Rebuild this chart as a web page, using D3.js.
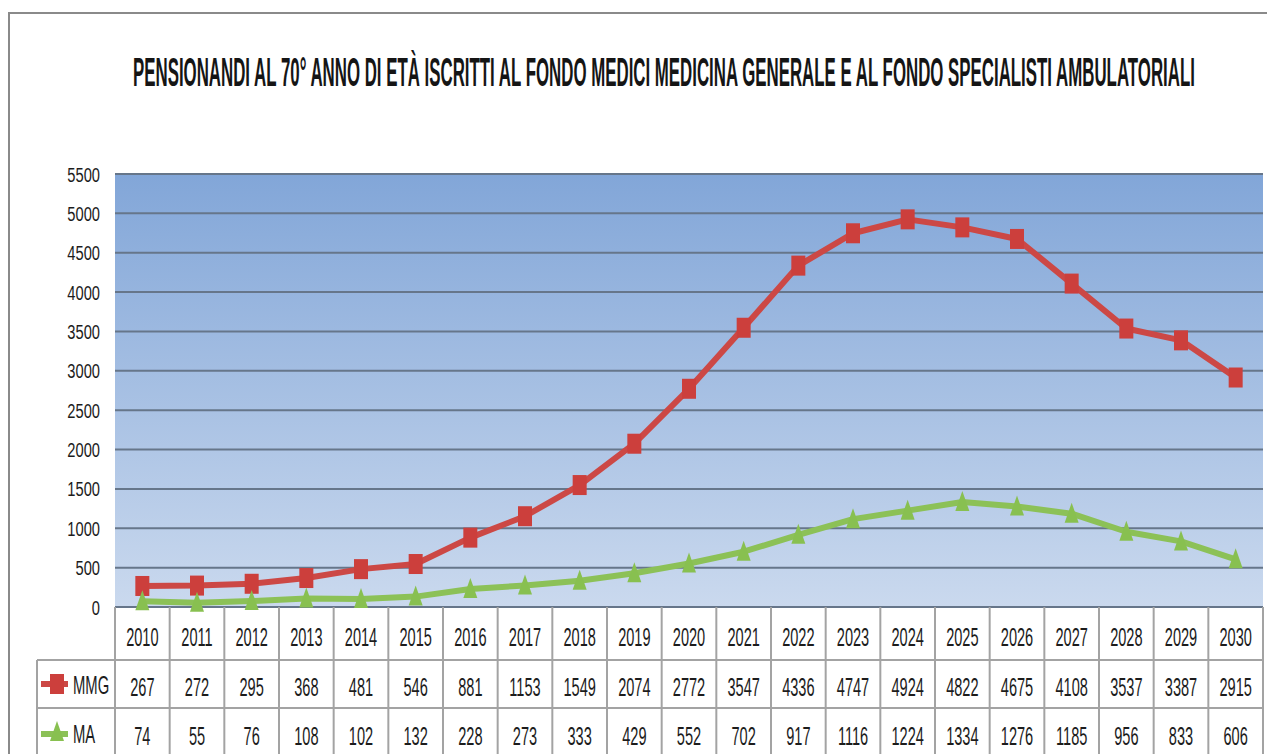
<!DOCTYPE html>
<html>
<head>
<meta charset="UTF-8">
<title>Pensionandi al 70° anno</title>
<script src="https://d3js.org/d3.v7.min.js"></script>
<style>
  body { margin: 0; background: #fff; }
  svg { display: block; }
  text { font-family: "Liberation Sans", Arial, sans-serif; fill: #1c1c1c; }
</style>
</head>
<body>
<svg></svg>
<script>
const years = ["2010","2011","2012","2013","2014","2015","2016","2017","2018","2019","2020",
               "2021","2022","2023","2024","2025","2026","2027","2028","2029","2030"];
const mmg = [267,272,295,368,481,546,881,1153,1549,2074,2772,3547,4336,4747,4924,4822,4675,4108,3537,3387,2915];
const ma  = [74,55,76,108,102,132,228,273,333,429,552,702,917,1116,1224,1334,1276,1185,956,833,606];
const yTicks = d3.range(0, 5501, 500);
const titleText = "PENSIONANDI AL 70° ANNO DI ETÀ ISCRITTI AL FONDO MEDICI MEDICINA GENERALE E AL FONDO SPECIALISTI AMBULATORIALI";

const width = 1267, height = 754;
const svg = d3.select("svg").attr("width", width).attr("height", height);

const plot = {left: 115, right: 1263, top: 174, bottom: 607};
const tbl = {legLeft: 37, row1: 660, row2: 708, bottom: 760};

const x = d3.scaleBand().domain(years).range([plot.left, plot.right]);
const y = d3.scaleLinear().domain([0, 5500]).range([plot.bottom, plot.top]);
const cx = d => x(d) + x.bandwidth() / 2;

// narrow text helper (the chart font is very condensed)
function ntext(g, tx, ty, str, size, sx, anchor, weight) {
  return g.append("text")
    .attr("transform", `translate(${tx},${ty}) scale(${sx},1)`)
    .attr("text-anchor", anchor || "middle")
    .style("font-size", size + "px")
    .style("font-weight", weight || "normal")
    .text(str);
}

// outer frame
svg.append("path")
  .attr("d", `M9,${height} V13 H${width}`)
  .attr("fill", "none").attr("stroke", "#8a8a8a").attr("stroke-width", 2);

// title, squeezed to the width it has in the original
const title = svg.append("text")
  .style("font-size", "40px").style("font-weight", "bold").style("fill", "#151515")
  .text(titleText);
const tw = title.node().getComputedTextLength();
title.attr("transform", `translate(133,86) scale(${1062 / tw},1)`);

// plot background gradient
const defs = svg.append("defs");
const grad = defs.append("linearGradient").attr("id", "bg")
  .attr("x1", 0).attr("y1", 0).attr("x2", 0).attr("y2", 1);
grad.append("stop").attr("offset", "0%").attr("stop-color", "#82a6d8");
grad.append("stop").attr("offset", "100%").attr("stop-color", "#cad9ee");

svg.append("rect")
  .attr("x", plot.left).attr("y", plot.top)
  .attr("width", plot.right - plot.left).attr("height", plot.bottom - plot.top)
  .attr("fill", "url(#bg)");

// gridlines
svg.append("g").selectAll("line").data(yTicks).join("line")
  .attr("x1", plot.left).attr("x2", plot.right)
  .attr("y1", d => y(d)).attr("y2", d => y(d))
  .attr("stroke", "#66768a").attr("stroke-width", 2);

// y labels
const yl = svg.append("g");
yTicks.forEach(t => ntext(yl, 100, y(t) + 7.5, t, 21, 0.7, "end"));

// lines
const line = d3.line().x((d, i) => cx(years[i])).y(d => y(d));
svg.append("path").datum(mmg).attr("d", line)
  .attr("fill", "none").attr("stroke", "#cc4845").attr("stroke-width", 6).attr("stroke-linejoin", "round");
svg.append("path").datum(ma).attr("d", line)
  .attr("fill", "none").attr("stroke", "#8cc157").attr("stroke-width", 6).attr("stroke-linejoin", "round");

// markers
svg.append("g").selectAll("rect").data(mmg).join("rect")
  .attr("x", (d, i) => cx(years[i]) - 7).attr("y", d => y(d) - 10)
  .attr("width", 14).attr("height", 20).attr("fill", "#cc3f3c");
const tri = (px, py) => `M${px},${py - 11} L${px + 7},${py + 9} L${px - 7},${py + 9} Z`;
svg.append("g").selectAll("path").data(ma).join("path")
  .attr("d", (d, i) => tri(cx(years[i]), y(d)))
  .attr("fill", "#88c050");

// data table
const tg = svg.append("g");
const bc = "#a3a3a3";
x.domain().forEach(d => {
  tg.append("line").attr("x1", x(d)).attr("x2", x(d))
    .attr("y1", plot.bottom).attr("y2", tbl.bottom).attr("stroke", bc).attr("stroke-width", 2);
});
tg.append("line").attr("x1", plot.right).attr("x2", plot.right)
  .attr("y1", plot.bottom).attr("y2", tbl.bottom).attr("stroke", bc).attr("stroke-width", 2);
tg.append("line").attr("x1", tbl.legLeft).attr("x2", tbl.legLeft)
  .attr("y1", tbl.row1).attr("y2", tbl.bottom).attr("stroke", bc).attr("stroke-width", 2);
[tbl.row1, tbl.row2].forEach(ry => {
  tg.append("line").attr("x1", tbl.legLeft).attr("x2", plot.right)
    .attr("y1", ry).attr("y2", ry).attr("stroke", bc).attr("stroke-width", 2);
});

years.forEach((yr, i) => {
  ntext(tg, cx(yr), 646, yr, 26, 0.56);
  ntext(tg, cx(yr), 696, mmg[i], 26, 0.56);
  ntext(tg, cx(yr), 745, ma[i], 26, 0.56);
});

// legend keys
tg.append("line").attr("x1", 41).attr("x2", 68).attr("y1", 684).attr("y2", 684)
  .attr("stroke", "#cc4845").attr("stroke-width", 6);
tg.append("rect").attr("x", 50).attr("y", 674).attr("width", 14).attr("height", 20).attr("fill", "#cc3f3c");
ntext(tg, 73, 694, "MMG", 26, 0.57, "start");

tg.append("line").attr("x1", 41).attr("x2", 68).attr("y1", 734).attr("y2", 734)
  .attr("stroke", "#8cc157").attr("stroke-width", 6);
tg.append("path").attr("d", tri(57, 732)).attr("fill", "#88c050");
ntext(tg, 73, 743, "MA", 26, 0.57, "start");
</script>
</body>
</html>
